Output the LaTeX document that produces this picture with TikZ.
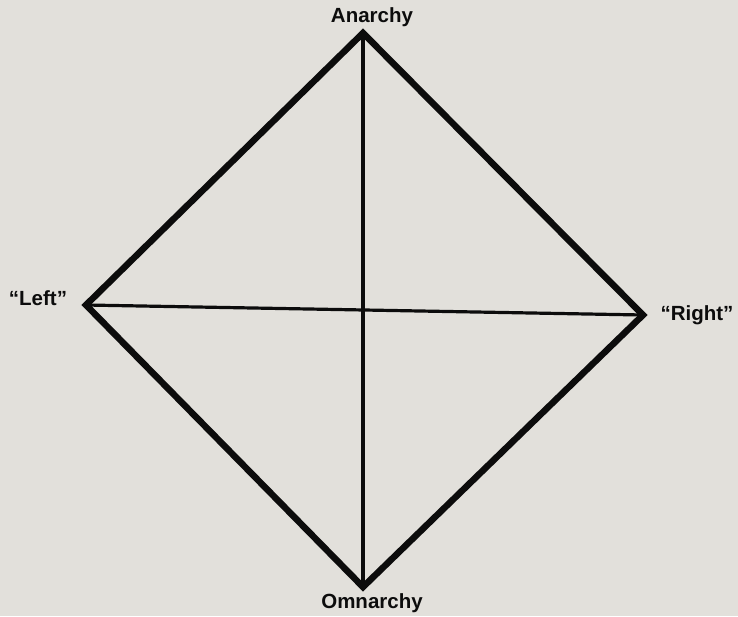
\documentclass[tikz,border=0pt]{standalone}
\usepackage{fontspec}
\setmainfont{Liberation Sans}
\usepackage{xcolor}
\usepackage{tikz}
\definecolor{paper}{RGB}{226,224,219}
\definecolor{ink}{RGB}{12,12,12}

\tikzset{
  axislabel/.style={font=\fontsize{20.5}{24}\selectfont\bfseries,text=ink,inner sep=0pt},
  rim/.style={ink,line width=6.5pt,line join=miter},
  cross/.style={ink,line width=3.2pt}
}

\begin{document}
\begin{tikzpicture}[x=1pt,y=-1pt]
    % Paper
    \fill[paper] (0,0) rectangle (738,616);
    \useasboundingbox (0,0) rectangle (738,616);

    % Corners
    \coordinate (top) at (363,33);
    \coordinate (left) at (86,305);
    \coordinate (right) at (643,315);
    \coordinate (bottom) at (363,587);

    % Axes
    \draw[cross] (top) -- (bottom);
    \draw[cross] (left) -- (right);

    % Diamond
    \draw[rim] (top) -- (right) -- (bottom) -- (left) -- cycle;

    % Labels
    \node[axislabel] (anarchy) at (372,17) {Anarchy};
    \node[axislabel] (omnarchy) at (372,603) {Omnarchy};
    \node[axislabel] (leftlbl) at (38,298) {“Left”};
    \node[axislabel] (rightlbl) at (697,315) {“Right”};
\end{tikzpicture}
\end{document}
